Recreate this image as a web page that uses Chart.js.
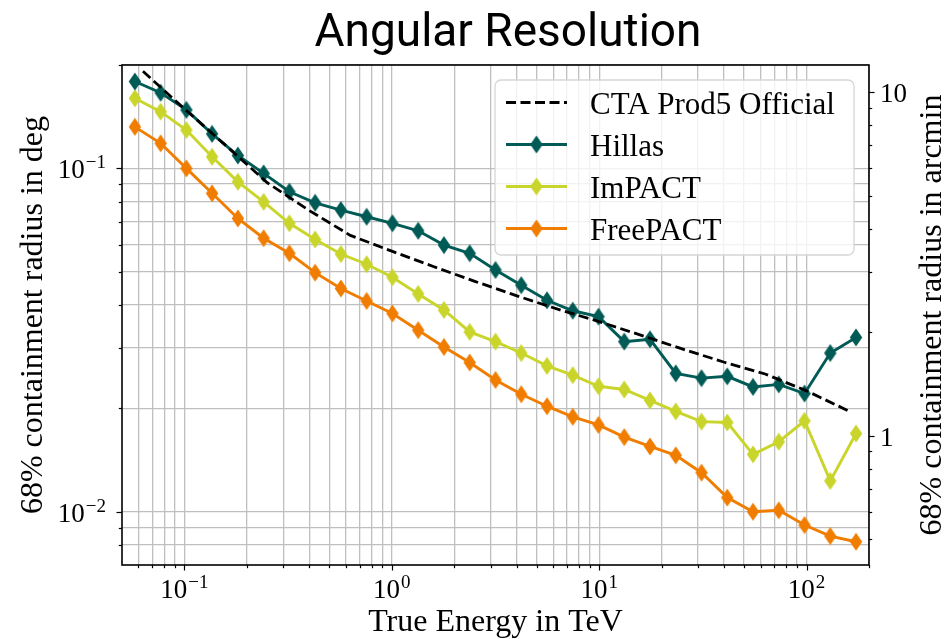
<!DOCTYPE html>
<html>
<head>
<meta charset="utf-8">
<title>Angular Resolution</title>
<script src="https://cdn.jsdelivr.net/npm/chart.js@4.4.1/dist/chart.umd.min.js"></script>
<style>
  html, body { margin: 0; padding: 0; background: #fff; }
</style>
</head>
<body>
<canvas id="angRes" width="945" height="639"></canvas>
<script>
// energy bin centres (TeV) for the three reconstructions
const energy = [0.0577, 0.0768, 0.1022, 0.1360, 0.1811, 0.2410, 0.3208, 0.4269, 0.5683, 0.7563,
  1.0073, 1.3407, 1.7845, 2.3751, 3.1623, 4.2090, 5.6021, 7.4563, 9.9274, 13.213,
  17.587, 23.408, 31.155, 41.467, 55.193, 73.461, 97.775, 130.14, 173.21];

// 68% containment radius in deg
const hillas = [0.179, 0.166, 0.148, 0.126, 0.109, 0.0967, 0.0855, 0.0794, 0.0756, 0.0723,
  0.0692, 0.0658, 0.0598, 0.0566, 0.0506, 0.0457, 0.0413, 0.0385, 0.0370, 0.0313,
  0.0318, 0.0253, 0.0245, 0.0248, 0.0231, 0.0235, 0.0221, 0.0290, 0.0322];
const impact = [0.160, 0.1463, 0.1293, 0.1081, 0.0914, 0.0799, 0.0692, 0.0621, 0.0563, 0.0526,
  0.0482, 0.0431, 0.0387, 0.0334, 0.0313, 0.0290, 0.0266, 0.0250, 0.0232, 0.0227,
  0.0211, 0.0196, 0.0183, 0.0182, 0.0147, 0.0160, 0.0184, 0.0123, 0.0169];
const freepact = [0.1321, 0.1183, 0.100, 0.0846, 0.0715, 0.0626, 0.0566, 0.0497, 0.0447, 0.0411,
  0.0378, 0.0338, 0.0302, 0.0272, 0.0242, 0.0220, 0.0203, 0.0189, 0.0179, 0.0165,
  0.0155, 0.0146, 0.0130, 0.0110, 0.0100, 0.0101, 0.00915, 0.0085, 0.00818];

// official CTA prod5 curve
const ctaEnergy = [0.0631, 0.1, 0.1585, 0.2512, 0.3981, 0.631, 1.0, 1.585, 2.512, 3.981,
  6.31, 10.0, 15.85, 25.12, 39.81, 63.1, 100.0, 158.5];
const ctaValues = [0.1918, 0.1491, 0.1165, 0.0908, 0.0755, 0.0638, 0.0574, 0.0518, 0.0469, 0.0426,
  0.0389, 0.0358, 0.0327, 0.0298, 0.0273, 0.0252, 0.0225, 0.0197];

// ticks
const xMajor = [0.1, 1, 10, 100];
const xMinor = [0.06, 0.07, 0.08, 0.09, 0.2, 0.3, 0.4, 0.5, 0.6, 0.7, 0.8, 0.9,
  2, 3, 4, 5, 6, 7, 8, 9, 20, 30, 40, 50, 60, 70, 80, 90, 200];
const xTickLabels = [['10', '\u22121'], ['10', '0'], ['10', '1'], ['10', '2']];
const yMajor = [0.01, 0.1];
const yMinor = [0.008, 0.009, 0.02, 0.03, 0.04, 0.05, 0.06, 0.07, 0.08, 0.09, 0.2];
const yTickLabels = [['10', '\u22122'], ['10', '\u22121']];
const arcminMajor = [1, 10];
const arcminMinor = [0.5, 0.6, 0.7, 0.8, 0.9, 2, 3, 4, 5, 6, 7, 8, 9];
const arcminTickLabels = ['1', '10'];

const colHillas = '#005a55';
const colImpact = '#c9d52a';
const colFree = '#f07d00';
const gridColor = '#bfbfbf';
const serif = '"Liberation Serif", "DejaVu Serif", serif';

// thin diamond marker like matplotlib 'd'
function thinDiamond(color) {
  const c = document.createElement('canvas');
  c.width = 14; c.height = 19;
  const g = c.getContext('2d');
  g.beginPath();
  g.moveTo(7, 0.5); g.lineTo(13.2, 9.5); g.lineTo(7, 18.5); g.lineTo(0.8, 9.5);
  g.closePath();
  g.fillStyle = color;
  g.fill();
  return c;
}

function seriesDataset(label, values, color) {
  return {
    label: label,
    data: energy.map((e, i) => ({x: e, y: values[i]})),
    borderColor: color,
    backgroundColor: color,
    borderWidth: 2.9,
    pointStyle: thinDiamond(color),
    pointRadius: 7,
    tension: 0
  };
}

const ctaDataset = {
  label: 'CTA Prod5 Official',
  data: ctaEnergy.map((e, i) => ({x: e, y: ctaValues[i]})),
  borderColor: '#000',
  borderWidth: 2.8,
  borderDash: [10, 4.5],
  pointRadius: 0,
  tension: 0
};

// draws text "10" with a superscript exponent
function drawPow(ctx, base, exp, x, y, align) {
  ctx.font = '27px ' + serif;
  const wb = ctx.measureText(base).width;
  ctx.font = '19px ' + serif;
  const we = ctx.measureText(exp).width + 1;
  let x0 = x;
  if (align === 'center') x0 = x - (wb + we) / 2;
  if (align === 'right') x0 = x - (wb + we);
  ctx.textAlign = 'left';
  ctx.textBaseline = 'alphabetic';
  ctx.font = '27px ' + serif;
  ctx.fillText(base, x0, y);
  ctx.font = '19px ' + serif;
  ctx.fillText(exp, x0 + wb + 1, y - 10);
}

const decorations = {
  id: 'decorations',
  afterDraw(chart) {
    const ctx = chart.ctx;
    const a = chart.chartArea;
    const sx = chart.scales.x, sy = chart.scales.y, s2 = chart.scales.y2;
    ctx.save();
    ctx.fillStyle = '#000';
    ctx.strokeStyle = '#000';

    // frame
    ctx.lineWidth = 1.6;
    ctx.strokeRect(a.left, a.top, a.right - a.left, a.bottom - a.top);

    // tick marks
    ctx.lineWidth = 1.2;
    const line = (x1, y1, x2, y2) => { ctx.beginPath(); ctx.moveTo(x1, y1); ctx.lineTo(x2, y2); ctx.stroke(); };
    xMajor.forEach(v => { const p = Math.round(sx.getPixelForValue(v)) + 0.5; line(p, a.bottom, p, a.bottom + 5.5); });
    xMinor.forEach(v => { const p = Math.round(sx.getPixelForValue(v)) + 0.5; line(p, a.bottom, p, a.bottom + 3.2); });
    yMajor.forEach(v => { const p = Math.round(sy.getPixelForValue(v)) + 0.5; line(a.left, p, a.left - 5.5, p); });
    yMinor.forEach(v => { const p = Math.round(sy.getPixelForValue(v)) + 0.5; line(a.left, p, a.left - 3.2, p); });
    arcminMajor.forEach(v => { const p = Math.round(s2.getPixelForValue(v)) + 0.5; line(a.right, p, a.right + 5.5, p); });
    arcminMinor.forEach(v => { const p = Math.round(s2.getPixelForValue(v)) + 0.5; line(a.right, p, a.right + 3.2, p); });

    // tick labels
    xMajor.forEach((v, i) => drawPow(ctx, xTickLabels[i][0], xTickLabels[i][1], sx.getPixelForValue(v), a.bottom + 33, 'center'));
    yMajor.forEach((v, i) => drawPow(ctx, yTickLabels[i][0], yTickLabels[i][1], a.left - 16, sy.getPixelForValue(v) + 10, 'right'));
    ctx.font = '27px ' + serif;
    ctx.textAlign = 'left';
    arcminMajor.forEach((v, i) => ctx.fillText(arcminTickLabels[i], a.right + 11, s2.getPixelForValue(v) + 10));

    // axis titles
    ctx.font = '32px ' + serif;
    ctx.textAlign = 'center';
    ctx.fillText('True Energy in TeV', (a.left + a.right) / 2, 631);
    const midY = (a.top + a.bottom) / 2;
    ctx.save();
    ctx.translate(42, midY);
    ctx.rotate(-Math.PI / 2);
    ctx.fillText('68% containment radius in deg', 0, 0);
    ctx.restore();
    ctx.save();
    ctx.translate(941, midY);
    ctx.rotate(-Math.PI / 2);
    ctx.fillText('68% containment radius in arcmin', 0, 0);
    ctx.restore();

    // title
    ctx.font = '46px Roboto, "Noto Sans", sans-serif';
    ctx.fillText('Angular Resolution', 508, 46);

    // legend
    const box = {x: 495, y: 80, w: 359, h: 175};
    ctx.beginPath();
    ctx.roundRect(box.x, box.y, box.w, box.h, 6);
    ctx.fillStyle = 'rgba(255,255,255,0.8)';
    ctx.fill();
    ctx.strokeStyle = '#d6d6d6';
    ctx.lineWidth = 1.3;
    ctx.stroke();
    ctx.font = '31px ' + serif;
    ctx.textAlign = 'left';
    chart.data.datasets.forEach((ds, i) => {
      const rowY = 102.5 + i * 42;
      ctx.strokeStyle = ds.borderColor;
      ctx.lineWidth = ds.borderWidth;
      ctx.setLineDash(ds.borderDash || []);
      line(506, rowY, 567, rowY);
      ctx.setLineDash([]);
      if (ds.pointStyle) {
        ctx.drawImage(ds.pointStyle, 536.5 - ds.pointStyle.width / 2, rowY - ds.pointStyle.height / 2);
      }
      ctx.fillStyle = '#000';
      ctx.fillText(ds.label, 590, rowY + 11);
    });
    ctx.restore();
  }
};

const ctx = document.getElementById('angRes').getContext('2d');
const chart = new Chart(ctx, {
  type: 'line',
  data: {
    datasets: [
      ctaDataset,
      seriesDataset('Hillas', hillas, colHillas),
      seriesDataset('ImPACT', impact, colImpact),
      seriesDataset('FreePACT', freepact, colFree)
    ]
  },
  options: {
    responsive: false,
    animation: false,
    events: [],
    layout: { padding: { top: 65, left: 0, right: 0, bottom: 0 } },
    plugins: {
      legend: { display: false },
      title: { display: false },
      tooltip: { enabled: false }
    },
    scales: {
      x: {
        type: 'logarithmic',
        position: 'bottom',
        min: 0.05,
        max: 200,
        afterBuildTicks: s => { s.ticks = xMajor.concat(xMinor).map(v => ({value: v})); },
        afterFit: s => { s.height = 74; },
        ticks: { display: false },
        grid: { color: gridColor, lineWidth: 1.3, drawTicks: false },
        border: { display: false }
      },
      y: {
        type: 'logarithmic',
        position: 'left',
        min: 0.007,
        max: 0.2,
        afterBuildTicks: s => { s.ticks = yMajor.concat(yMinor).map(v => ({value: v})); },
        afterFit: s => { s.width = 122; },
        ticks: { display: false },
        grid: { color: gridColor, lineWidth: 1.3, drawTicks: false },
        border: { display: false }
      },
      y2: {
        type: 'logarithmic',
        position: 'right',
        min: 0.42,
        max: 12,
        afterFit: s => { s.width = 76; },
        ticks: { display: false },
        grid: { display: false, drawTicks: false },
        border: { display: false }
      }
    }
  },
  plugins: [decorations]
});
</script>
</body>
</html>
